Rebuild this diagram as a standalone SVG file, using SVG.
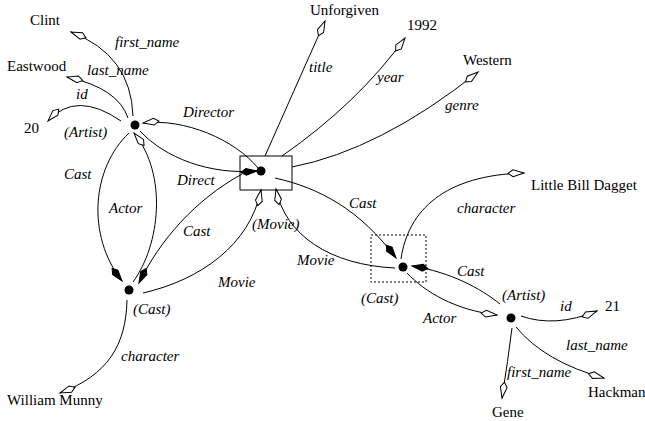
<svg xmlns="http://www.w3.org/2000/svg" width="645" height="421" viewBox="0 0 645 421">
<style>
text{font-family:"Liberation Serif","Times New Roman",serif;font-size:15px;fill:#000}
.l{font-style:italic}
.e{fill:none;stroke:#000;stroke-width:1}
.h{marker-end:url(#hollow)}
.f{marker-end:url(#filled)}
.dot{fill:#000}
</style>
<defs>
<marker id="hollow" markerWidth="18" markerHeight="10" refX="16" refY="4" orient="auto" markerUnits="userSpaceOnUse" overflow="visible">
<path d="M0,4 L5,0.6 L16,4 L5,7.4 Z" fill="#fff" stroke="#000" stroke-width="1"/>
</marker>
<marker id="filled" markerWidth="18" markerHeight="10" refX="16" refY="4" orient="auto" markerUnits="userSpaceOnUse" overflow="visible">
<path d="M0,4 L5,0.6 L16,4 L5,7.4 Z" fill="#000" stroke="#000" stroke-width="1"/>
</marker>
</defs>
<rect width="645" height="421" fill="#fff"/>
<g id="connectors">
<path class="e h" d="M133,116 Q131,55 71,32"/>
<path class="e h" d="M128,118 Q118,88 67,77"/>
<path class="e h" d="M121,121 Q76,90 48,121"/>
<path class="e h" d="M258,168 C235,140 185,118 143,123"/>
<path class="e f" d="M140,131 C165,158 210,175 257,171"/>
<path class="e f" d="M129,133 C92,168 86,235 122,281"/>
<path class="e h" d="M133,282 C160,245 168,175 134,133"/>
<path class="e f" d="M242,174 C195,200 160,240 139,283"/>
<path class="e h" d="M143,293 C200,280 250,245 261,190"/>
<path class="e h" d="M395,268 C330,265 285,235 276,189"/>
<path class="e f" d="M275,178 C320,188 360,210 396,258"/>
<path class="e h" d="M265,156 Q292,95 325,21"/>
<path class="e h" d="M282,156 Q358,103 405,38"/>
<path class="e h" d="M292,167 Q380,150 478,72"/>
<path class="e h" d="M401,259 C408,210 445,175 524,173"/>
<path class="e f" d="M500,304 C480,288 450,272 412,266"/>
<path class="e h" d="M407,273 C425,292 455,310 497,315"/>
<path class="e h" d="M521,316 Q555,328 597,311"/>
<path class="e h" d="M516,327 Q545,362 604,378"/>
<path class="e h" d="M512,328 Q508,360 502,398"/>
<path class="e h" d="M127,300 C126,345 108,375 60,393"/>
<text class="l" x="115" y="47">first_name</text>
<text class="l" x="87" y="75">last_name</text>
<text class="l" x="76" y="99">id</text>
<text class="l" x="183" y="117">Director</text>
<text class="l" x="64" y="179">Cast</text>
<text class="l" x="109" y="213">Actor</text>
<text class="l" x="177" y="185">Direct</text>
<text class="l" x="183" y="236">Cast</text>
<text class="l" x="218" y="287">Movie</text>
<text class="l" x="121" y="361">character</text>
<text class="l" x="309" y="72">title</text>
<text class="l" x="377" y="82">year</text>
<text class="l" x="445" y="110">genre</text>
<text class="l" x="297" y="265">Movie</text>
<text class="l" x="349" y="208">Cast</text>
<text class="l" x="457" y="213">character</text>
<text class="l" x="457" y="276">Cast</text>
<text class="l" x="423" y="323">Actor</text>
<text class="l" x="560" y="311">id</text>
<text class="l" x="566" y="350">last_name</text>
<text class="l" x="507" y="377">first_name</text>
</g>
<g id="artist1">
<circle class="dot" cx="135" cy="125" r="4.5"/>
<text class="l" x="64" y="137">(Artist)</text>
</g>
<g id="movie">
<rect x="240" y="156" width="52" height="34" fill="none" stroke="#000" stroke-width="1"/>
<circle class="dot" cx="261" cy="171" r="4.5"/>
<text class="l" x="252" y="229">(Movie)</text>
</g>
<g id="cast1">
<circle class="dot" cx="129" cy="290" r="4.5"/>
<text class="l" x="133" y="314">(Cast)</text>
</g>
<g id="cast2">
<rect x="371" y="235" width="55" height="47" fill="none" stroke="#000" stroke-width="1" stroke-dasharray="2,2"/>
<circle class="dot" cx="403" cy="267" r="4.5"/>
<text class="l" x="361" y="303">(Cast)</text>
</g>
<g id="artist2">
<circle class="dot" cx="511" cy="318" r="4.5"/>
<text class="l" x="502" y="300">(Artist)</text>
</g>
<g id="v-clint"><text x="30" y="25">Clint</text></g>
<g id="v-eastwood"><text x="7" y="71">Eastwood</text></g>
<g id="v-20"><text x="24" y="133">20</text></g>
<g id="v-unforgiven"><text x="310" y="15">Unforgiven</text></g>
<g id="v-1992"><text x="407" y="30">1992</text></g>
<g id="v-western"><text x="463" y="65">Western</text></g>
<g id="v-munny"><text x="7" y="405">William Munny</text></g>
<g id="v-dagget"><text x="531" y="190">Little Bill Dagget</text></g>
<g id="v-21"><text x="605" y="311">21</text></g>
<g id="v-hackman"><text x="588" y="397">Hackman</text></g>
<g id="v-gene"><text x="492" y="417">Gene</text></g>
</svg>
